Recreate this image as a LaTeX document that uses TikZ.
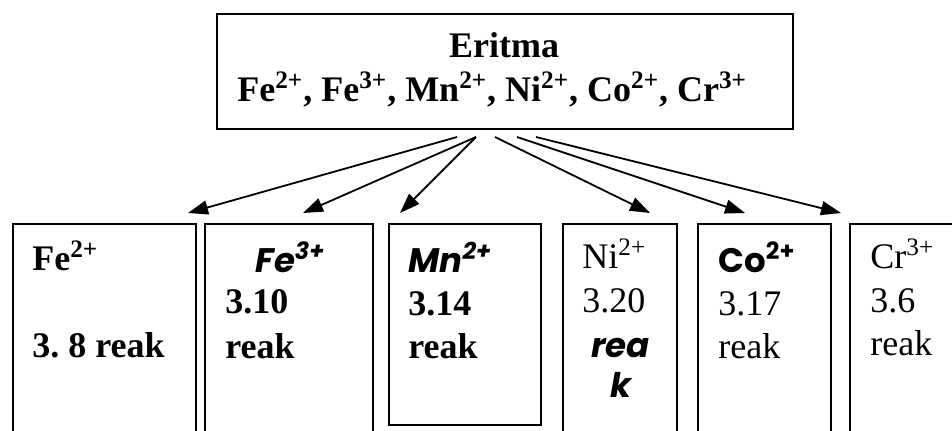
\documentclass[tikz,border=0pt]{standalone}
\usepackage{fontspec}
\setmainfont{Liberation Serif}
\newfontfamily\gothic{Poppins}
\usetikzlibrary{arrows.meta}
\frenchspacing
\begin{document}
\begin{tikzpicture}[x=0.5pt,y=-0.5pt,
  box/.style={draw, line width=1pt, rectangle, inner sep=0pt, anchor=north west},
  txt/.style={inner sep=0pt, anchor=base west, font=\fontsize{18}{22}\selectfont},
  gtxt/.style={inner sep=0pt, anchor=base west, font=\fontsize{17}{22}\selectfont\gothic},
  arr/.style={line width=0.9pt, -{Triangle[length=10pt,width=7pt]}}]
\useasboundingbox (0,0) rectangle (952,430);
\clip (0,0) rectangle (952,430);
% top box
\node[box, minimum width=288pt, minimum height=57.5pt] (top) at (216,13) {};
\node[txt, anchor=base] (eritma) at (504,57) {\bfseries Eritma};
\node[txt] (ions) at (237,101) {\bfseries Fe\textsuperscript{2+}, Fe\textsuperscript{3+}, Mn\textsuperscript{2+}, Ni\textsuperscript{2+}, Co\textsuperscript{2+}, Cr\textsuperscript{3+}};
% bottom boxes
\node[box, minimum width=91.5pt, minimum height=108.5pt] (b1) at (12,223) {};
\node[box, minimum width=84pt, minimum height=108.5pt] (b2) at (204,223) {};
\node[box, minimum width=76pt, minimum height=100.5pt] (b3) at (388,223) {};
\node[box, minimum width=57pt, minimum height=108.5pt] (b4) at (562,223) {};
\node[box, minimum width=66.5pt, minimum height=108.5pt] (b5) at (697,223) {};
\node[box, minimum width=58pt, minimum height=108.5pt] (b6) at (849,223) {};
% texts box 1
\node[txt] (b1a) at (32,270) {\bfseries Fe\textsuperscript{2+}};
\node[txt] (b1b) at (32,357) {\bfseries 3. 8 reak};
% box 2
\node[gtxt] (b2a) at (255,272) {\bfseries\itshape Fe\textsuperscript{3+}};
\node[txt] (b2b) at (225,313) {\bfseries 3.10};
\node[txt] (b2c) at (225,358) {\bfseries reak};
% box 3
\node[gtxt] (b3a) at (408,272) {\bfseries\itshape Mn\textsuperscript{2+}};
\node[txt] (b3b) at (408,315) {\bfseries 3.14};
\node[txt] (b3c) at (408,358) {\bfseries reak};
% box 4
\node[txt] (b4a) at (582,268) {Ni\textsuperscript{2+}};
\node[txt] (b4b) at (582,312) {3.20};
\node[gtxt] (b4c) at (591,357) {\bfseries\itshape rea};
\node[gtxt] (b4d) at (610,397) {\bfseries\itshape k};
% box 5
\node[gtxt] (b5a) at (718,272) {\bfseries Co\textsuperscript{2+}};
\node[txt] (b5b) at (718,315) {3.17};
\node[txt] (b5c) at (718,358) {reak};
% box 6
\node[txt] (b6a) at (870,268) {Cr\textsuperscript{3+}};
\node[txt] (b6b) at (870,312) {3.6};
\node[txt] (b6c) at (870,355) {reak};
% arrows
\coordinate (s1) at (457,137); \coordinate (t1) at (188,213);
\coordinate (s2) at (476,137); \coordinate (t2) at (303,213);
\coordinate (s3) at (476,137); \coordinate (t3) at (400,213);
\coordinate (s4) at (495,137); \coordinate (t4) at (650,213);
\coordinate (s5) at (517,137); \coordinate (t5) at (745,213);
\coordinate (s6) at (536,137); \coordinate (t6) at (841,213);
\foreach \i in {1,...,6} \draw[arr] (s\i) -- (t\i);
\end{tikzpicture}
\end{document}
